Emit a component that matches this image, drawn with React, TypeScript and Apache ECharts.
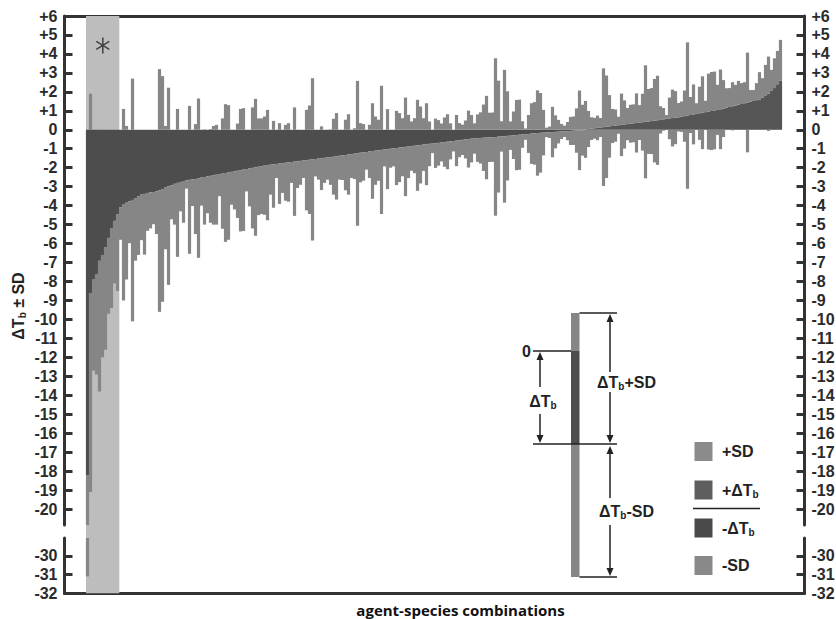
import React, { useEffect, useRef } from 'react';
import * as echarts from 'echarts';

// ΔTb per agent-species combination (sorted)
const DELTA_TB = [
  -18.2, -8.6, -7.9, -7.6, -6.9, -6.6, -6.2, -5.7, -5.2, -4.8,
  -4.45, -4.1, -3.95, -3.85, -3.78, -3.7, -3.6, -3.5, -3.42, -3.38,
  -3.33, -3.3, -3.28, -3.25, -3.2, -3.12, -3.05, -2.98, -2.92, -2.85,
  -2.8, -2.75, -2.7, -2.67, -2.64, -2.62, -2.6, -2.55,
  -2.52, -2.49, -2.46, -2.43, -2.4, -2.37, -2.34, -2.31, -2.28, -2.25,
  -2.22, -2.19, -2.16, -2.13, -2.1, -2.07, -2.04, -2.01, -1.98, -1.95,
  -1.92, -1.89, -1.86, -1.84, -1.82, -1.8, -1.78, -1.76, -1.74, -1.72,
  -1.7, -1.68, -1.66, -1.64, -1.62, -1.6, -1.58, -1.56, -1.54,
  -1.52, -1.5, -1.48, -1.46, -1.44, -1.42, -1.4, -1.37, -1.35, -1.33,
  -1.3, -1.28, -1.26, -1.24, -1.21, -1.19, -1.17, -1.14, -1.12, -1.1,
  -1.08, -1.06, -1.04, -1.02, -1.0, -0.98, -0.96, -0.94, -0.92, -0.9,
  -0.88, -0.86, -0.84, -0.82, -0.8, -0.78, -0.76, -0.74,
  -0.73, -0.71, -0.69, -0.67, -0.65, -0.63, -0.61, -0.59, -0.57, -0.55,
  -0.53, -0.51, -0.49, -0.47, -0.46, -0.44, -0.43, -0.42, -0.41, -0.4,
  -0.39, -0.38, -0.36, -0.35, -0.34, -0.32, -0.31, -0.29, -0.28, -0.26,
  -0.25, -0.23, -0.22, -0.2, -0.19, -0.17, -0.16, -0.15,
  -0.14, -0.13, -0.12, -0.11, -0.1, -0.09, -0.08, -0.07, -0.06, -0.05, -0.04, -0.03, -0.02,
  0.02, 0.04, 0.06, 0.08, 0.1, 0.12, 0.14, 0.16, 0.18, 0.2,
  0.22, 0.24, 0.26, 0.28, 0.3, 0.32, 0.34, 0.36, 0.38, 0.4,
  0.42, 0.44, 0.46, 0.48, 0.5, 0.52, 0.55, 0.58, 0.6, 0.62,
  0.64, 0.66, 0.69, 0.72, 0.75, 0.78, 0.81, 0.84, 0.87, 0.9,
  0.93, 0.96, 0.99, 1.02, 1.05, 1.08, 1.12, 1.16, 1.2, 1.24,
  1.28, 1.32, 1.36, 1.4, 1.44, 1.48, 1.52, 1.56, 1.6, 1.7,
  1.78, 1.9, 2.05, 2.2, 2.4, 2.6,
];

// SD per combination
const SD = [
  12.9, 10.5, 4.8, 5.3, 6.9, 5.4, 5.4, 4.0, 4.2, 3.3,
  4.05, 1.7, 5.05, 4.05, 2.2, 6.4, 3.3, 3.1, 2.4, 3.2,
  2.0, 1.9, 1.7, 2.25, 6.4, 5.95, 3.25, 5.2, 1.8, 2.15,
  3.9, 1.55, 2.2, 0.43, 3.9, 1.4, 2.9, 4.2,
  1.48, 2.51, 1.94, 2.47, 2.6, 2.63, 1.16, 2.91, 3.63, 3.55,
  1.73, 2.01, 2.49, 3.23, 3.24, 1.18, 2.0, 3.19, 3.61, 2.55,
  2.52, 2.59, 2.91, 1.58, 2.29, 0.74, 2.13, 1.57, 2.0, 2.07,
  1.1, 2.86, 1.41, 1.26, 0.92, 2.65, 2.86, 4.28, 0.92,
  1.11, 1.68, 1.32, 1.17, 1.46, 2.0, 2.28, 1.26, 1.3, 1.86,
  2.12, 1.26, 1.34, 3.82, 1.56, 1.49, 0.93, 1.4, 2.52, 1.8,
  1.61, 3.38, 0.89, 2.11, 1.0, 0.95, 1.96, 1.82, 1.53, 2.6,
  1.67, 1.3, 1.45, 2.4, 2.03, 1.39, 2.16, 1.18,
  0.5, 1.3, 1.2, 1.0, 1.3, 1.45, 0.95, 0.55, 1.35, 0.9,
  0.8, 1.0, 1.5, 1.25, 0.8, 1.25, 1.35, 1.75, 2.2, 1.3,
  1.3, 4.15, 2.95, 0.8, 3.5, 2.35, 0.75, 1.25, 1.85, 1.85,
  0.7, 0.3, 1.0, 1.6, 1.65, 2.25, 2.1, 1.2,
  0.25, 0.3, 1.33, 0.87, 0.62, 0.4, 0.3, 0.48, 0.74, 0.75, 1.17, 2.1, 1.34,
  1.5, 0.95, 0.6, 0.55, 0.65, 0.5, 3.1, 2.7, 1.65, 0.9,
  0.85, 0.45, 1.65, 1.27, 0.85, 1.0, 1.0, 1.56, 0.92, 1.5,
  2.98, 1.71, 1.74, 2.2, 2.35, 0.72, 0.6, 0.2, 1.1, 1.5,
  1.4, 0.75, 0.8, 1.35, 3.86, 0.95, 1.58, 0.56, 1.4, 1.92,
  0.6, 2.0, 2.06, 2.05, 1.32, 2.1, 1.5, 1.03, 1.0, 1.27,
  1.09, 1.26, 1.1, 1.11, 2.63, 0.62, 0.58, 0.9, 1.44, 1.02,
  1.64, 1.96, 1.11, 1.57, 1.76, 2.14,
];

const Y_TICKS_UPPER = [6, 5, 4, 3, 2, 1, 0, -1, -2, -3, -4, -5, -6, -7, -8, -9, -10,
  -11, -12, -13, -14, -15, -16, -17, -18, -19, -20];
const Y_TICKS_LOWER = [-30, -31, -32];
const UPPER_RANGE = [-20.84, 6];
const LOWER_RANGE = [-32, -29.05];
const X_RANGE = [-7.67, 239];
const HIGHLIGHT_RANGE = [-0.5, 10.6];
const STAR_POINT = [5.1, 4.45];
const X_TITLE = 'agent-species combinations';

const AXIS = '#333333';
const NEG_DARK = '#4d4d4d';
const POS_DARK = '#565656';
const SD_GRAY = '#868686';
const BAND = '#bdbdbd';
const INK = '#222222';
const FONT = 'Liberation Sans';

const fmt = (v: number) => (v > 0 ? '+' + v : String(v));

const RICH = {
  m: { fontFamily: FONT, fontWeight: 'bold', fontSize: 16, fill: INK, lineHeight: 19 },
  s: { fontFamily: FONT, fontWeight: 'bold', fontSize: 10, fill: INK, lineHeight: 10, verticalAlign: 'bottom' },
};

function txt(x: number, y: number, text: string, align = 'center', extra: any = {}) {
  return { type: 'text', x, y, z: 10, ...extra, style: { text, rich: RICH, align, verticalAlign: 'middle' } };
}
function ln(x1: number, y1: number, x2: number, y2: number) {
  return { type: 'line', z: 10, shape: { x1, y1, x2, y2 }, style: { stroke: INK, lineWidth: 1.5 } };
}
function tri(x: number, y: number, up: boolean) {
  const d = up ? 8 : -8;
  return { type: 'polygon', z: 10, shape: { points: [[x, y], [x - 3.5, y + d], [x + 3.5, y + d]] }, style: { fill: INK } };
}
function box(x: number, y: number, w: number, h: number, fill: string) {
  return { type: 'rect', z: 10, shape: { x, y, width: w, height: h }, style: { fill } };
}

export default function App() {
  const ref = useRef<HTMLDivElement>(null);

  useEffect(() => {
    const chart = echarts.init(ref.current!, null, { renderer: 'svg' });

    // value first, index second: the stacked dimension is the first numeric one
    const negDT = DELTA_TB.map((d, i) => [d < 0 ? d : 0, i]);
    const posDT = DELTA_TB.map((d, i) => [d > 0 ? d : 0, i]);
    const upSD = DELTA_TB.map((d, i) => [d > 0 ? SD[i] : Math.max(d + SD[i], 0), i]);
    const loSD = DELTA_TB.map((d, i) => [d < 0 ? -SD[i] : Math.min(d - SD[i], 0), i]);

    const barSeries = (g: number) => {
      const yi = g === 0 ? 0 : 2;
      const common = { type: 'bar', xAxisIndex: g, yAxisIndex: yi, stack: 'st' + g, barWidth: 3.2,
        silent: true, z: 2, encode: { x: 1, y: 0 } };
      return [
        { ...common, name: '-ΔTb', data: negDT, itemStyle: { color: NEG_DARK } },
        { ...common, name: '+ΔTb', data: posDT, itemStyle: { color: POS_DARK } },
        { ...common, name: '+SD', data: upSD, itemStyle: { color: SD_GRAY } },
        { ...common, name: '-SD', data: loSD, itemStyle: { color: SD_GRAY } },
      ];
    };

    const yAxis = (gridIndex: number, position: string, range: number[], ticks: number[]) => ({
      type: 'value', gridIndex, position, min: range[0], max: range[1],
      axisLine: { show: true, onZero: false, lineStyle: { color: AXIS, width: 3 } },
      axisTick: { show: true, inside: true, length: 8, customValues: ticks, lineStyle: { color: AXIS, width: 3 } },
      axisLabel: { show: true, customValues: ticks, formatter: fmt, margin: 7, color: '#2b2b2b',
        fontFamily: FONT, fontWeight: 'bold', fontSize: 16 },
      splitLine: { show: false },
    });
    const xAxis = (gridIndex: number, position: string, show = true) => ({
      type: 'value', gridIndex, position, min: X_RANGE[0], max: X_RANGE[1], show,
      axisLine: { show: true, onZero: false, lineStyle: { color: AXIS, width: 3 } },
      axisTick: { show: false }, axisLabel: { show: false }, splitLine: { show: false },
    });

    const graphics: any[] = [
      txt(18, 306, '{m|ΔT}{s|b}{m| ± SD}', 'center', { rotation: Math.PI / 2 }),
      { type: 'text', x: 460.5, y: 610, z: 10, style: { text: X_TITLE, fontFamily: 'Open Sans', fontWeight: 'bold',
        fontSize: 15, fill: '#111', align: 'center', verticalAlign: 'middle' } },
      box(571, 313, 8.5, 38, SD_GRAY),
      box(571, 351, 8.5, 93, NEG_DARK),
      box(571, 444, 8.5, 133, SD_GRAY),
      ln(533, 351, 571, 351),
      ln(533, 444, 617, 444),
      ln(579.5, 313, 617, 313),
      ln(579.5, 577, 617, 577),
      txt(526.5, 351, '{m|0}'),
      ln(540, 357, 540, 387), tri(540, 352, true),
      ln(540, 414, 540, 438), tri(540, 443, false),
      txt(543, 401, '{m|ΔT}{s|b}'),
      ln(610, 319, 610, 372), tri(610, 314, true),
      ln(610, 392, 610, 438), tri(610, 443, false),
      txt(626.5, 382, '{m|ΔT}{s|b}{m|+SD}'),
      ln(610, 452, 610, 498), tri(610, 446, true),
      ln(610, 525, 610, 571), tri(610, 576, false),
      txt(626.5, 511, '{m|ΔT}{s|b}{m|-SD}'),
      box(694.5, 442, 18, 19, '#8b8b8b'),
      box(694.5, 480.5, 18, 19, '#5e5e5e'),
      box(694.5, 518.5, 18, 19, '#4a4a4a'),
      box(694.5, 556, 18, 19, '#898989'),
      ln(693, 508.5, 760, 508.5),
      txt(722, 451.5, '{m|+SD}', 'left'),
      txt(722, 490, '{m|+ΔT}{s|b}', 'left'),
      txt(722, 528, '{m|-ΔT}{s|b}', 'left'),
      txt(722, 565.5, '{m|-SD}', 'left'),
    ];

    const option: any = {
      animation: false,
      backgroundColor: '#ffffff',
      grid: [
        { left: 64.5, right: 31.5, top: 16, height: 509, outerBoundsMode: 'none' },
        { left: 64.5, right: 31.5, top: 538, height: 55.3, outerBoundsMode: 'none' },
        { left: 64.5, right: 31.5, top: 16, height: 577.3, outerBoundsMode: 'none' },
      ],
      xAxis: [xAxis(0, 'top'), xAxis(1, 'bottom'), xAxis(2, 'bottom', false)],
      yAxis: [
        yAxis(0, 'left', UPPER_RANGE, Y_TICKS_UPPER),
        yAxis(0, 'right', UPPER_RANGE, Y_TICKS_UPPER),
        yAxis(1, 'left', LOWER_RANGE, Y_TICKS_LOWER),
        yAxis(1, 'right', LOWER_RANGE, Y_TICKS_LOWER),
        { type: 'value', gridIndex: 2, min: 0, max: 1, show: false },
      ],
      series: [
        {
          type: 'line', xAxisIndex: 2, yAxisIndex: 4, data: [[HIGHLIGHT_RANGE[0], 0.5]], symbol: 'none',
          silent: true, lineStyle: { opacity: 0 },
          markArea: { silent: true, itemStyle: { color: BAND }, label: { show: false },
            data: [[{ xAxis: HIGHLIGHT_RANGE[0] }, { xAxis: HIGHLIGHT_RANGE[1] }]] },
        },
        ...barSeries(0),
        ...barSeries(1),
        {
          type: 'scatter', xAxisIndex: 0, yAxisIndex: 0, z: 5, silent: true,
          data: [STAR_POINT],
          symbol: 'path://M-1,10L1,10L1,-10L-1,-10Z M8.16,5.87L9.16,4.13L-8.16,-5.87L-9.16,-4.13Z M-9.16,4.13L-8.16,5.87L9.16,-4.13L8.16,-5.87Z',
          symbolSize: [15, 16], symbolKeepAspect: true,
          itemStyle: { color: '#222' },
        },
      ],
      graphic: { elements: graphics },
    };

    chart.setOption(option);
    return () => chart.dispose();
  }, []);

  return <div ref={ref} style={{ position: 'absolute', left: 0, top: 0, width: 836, height: 619 }} />;
}
